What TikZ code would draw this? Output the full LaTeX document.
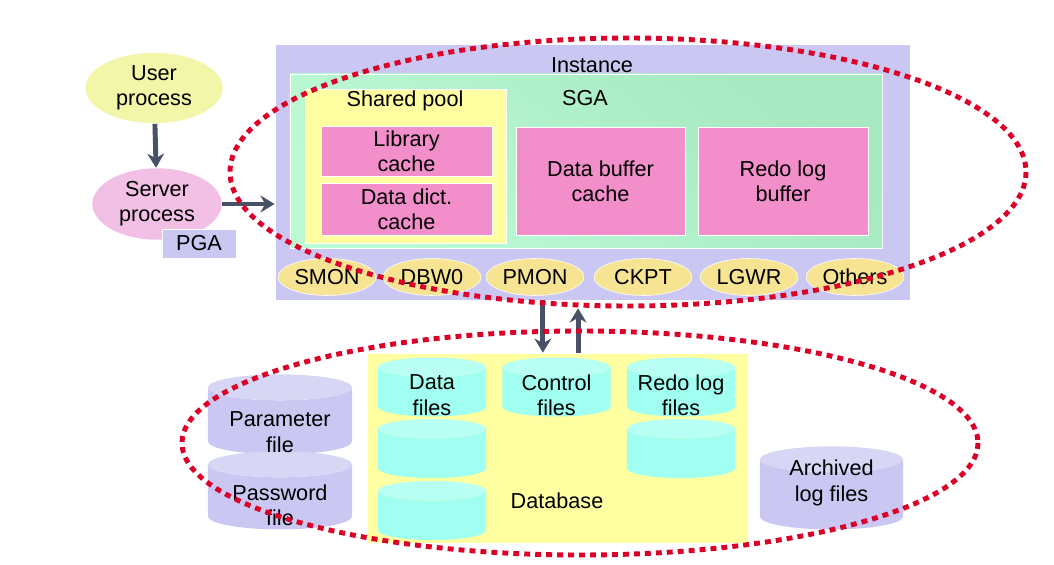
\documentclass[tikz,border=0pt]{standalone}
\usepackage{fontspec}
\setmainfont{Liberation Sans}
\usetikzlibrary{shapes.geometric,arrows.meta}
\definecolor{lav}{RGB}{202,200,242}
\definecolor{mint}{RGB}{188,250,214}
\definecolor{mintdk}{RGB}{166,232,194}
\definecolor{pool}{RGB}{255,255,162}
\definecolor{rose}{RGB}{242,142,202}
\definecolor{proc}{RGB}{246,228,146}
\definecolor{uproc}{RGB}{242,246,168}
\definecolor{sproc}{RGB}{242,192,228}
\definecolor{aqua}{RGB}{160,255,240}
\definecolor{slate}{RGB}{72,82,102}
\definecolor{dotred}{RGB}{220,0,40}
\begin{document}
\begin{tikzpicture}[x=0.025cm,y=-0.025cm]
\tikzstyle{every node}=[font=\fontsize{15.4}{18}\selectfont, align=center, inner sep=0pt]
\tikzstyle{box}=[rectangle, draw=white, line width=0.5pt]
\tikzstyle{cache}=[box, fill=rose]
\tikzstyle{bgproc}=[ellipse, fill=proc, draw=white, minimum width=2.45cm, minimum height=0.925cm]
\tikzstyle{can}=[cylinder, shape border rotate=90, aspect=0.18, cylinder uses custom fill]
\tikzstyle{dbfile}=[can, cylinder body fill=aqua, cylinder end fill=aqua!75!white, text width=2.7cm, minimum height=1.475cm]
\tikzstyle{osfile}=[can, cylinder body fill=lav, cylinder end fill=lav!75!white, text width=3.6cm]
\tikzstyle{arr}=[slate, line width=3.5pt, -{Stealth[length=10pt,width=12pt]}]
\tikzstyle{ring}=[dotred, line width=3.5pt, dash pattern=on 4.2pt off 3.6pt]
\useasboundingbox (0,0) rectangle (1054,565);
\node[box, fill=lav, minimum width=15.875cm, minimum height=6.4cm] (inst) at (592.5,172) {};
\node (instlbl) at (592,65) {Instance};
\node[box, shading=axis, top color=mintdk, middle color=mint, bottom color=mint, shading angle=-40, minimum width=14.8cm, minimum height=4.35cm] (sga) at (586,161) {};
\node (sgalbl) at (585,98) {SGA};
\node[box, fill=pool, minimum width=5.025cm, minimum height=3.85cm] (pool) at (405.5,166) {};
\node (poollbl) at (405,101) {Shared pool};
\node[cache, minimum width=4.275cm, minimum height=1.25cm] (lib) at (406.5,151) {Library\\cache};
\node[cache, minimum width=4.275cm, minimum height=1.3cm] (dict) at (406.5,209) {Data dict.\\cache};
\node[cache, minimum width=4.225cm, minimum height=2.7cm] (dbuf) at (600.5,181) {Data buffer\\cache};
\node[cache, minimum width=4.25cm, minimum height=2.7cm] (rbuf) at (783,181) {Redo log\\buffer};
\foreach \n/\x in {SMON/327,DBW0/432,PMON/535,CKPT/643,LGWR/749,Others/855}
  \node[bgproc] (\n) at (\x,277) {\n};
\node[ellipse, fill=uproc, draw=white, minimum width=3.45cm, minimum height=1.775cm] (user) at (154,88) {User\\process};
\node[ellipse, fill=sproc, draw=white, minimum width=3.25cm, minimum height=1.8cm] (server) at (157,204) {Server\\process};
\node[box, fill=lav, minimum width=1.85cm, minimum height=0.725cm] (pga) at (199,243.5) {PGA};
\node[box, fill=pool, minimum width=9.525cm, minimum height=4.75cm] (db) at (557.5,448) {};
\node (dblbl) at (557,501) {Database};
\node[dbfile] (data1) at (432,392) {};
\node[dbfile] (data2) at (432,453.5) {};
\node[dbfile] (data3) at (432,515.5) {};
\node[dbfile] (ctrl) at (556.5,392) {};
\node[dbfile] (redo1) at (681,392) {};
\node[dbfile] (redo2) at (681,453.5) {};
\node[osfile, minimum height=2cm] (param) at (280,421) {};
\node[osfile, minimum height=1.95cm] (passwd) at (280,497) {};
\node[osfile, text width=3.575cm, minimum height=2.075cm] (arch) at (831.5,494.5) {};
\node (data1lbl) at (432,395) {Data\\files};
\node (ctrllbl) at (556.5,395) {Control\\files};
\node (redo1lbl) at (681,395) {Redo log\\files};
\node (paramlbl) at (280,432) {Parameter\\file};
\node (passwdlbl) at (280,505) {Password\\file};
\node (archlbl) at (831.5,483) {Archived\\log files};
\draw[arr] (user) -- (server);
\draw[arr] (server) -- (server -| inst.west);
\draw[arr] ([xshift=-0.34cm]inst.south -| ctrl.north) -- ([xshift=-0.34cm]db.north -| ctrl.north);
\draw[arr] ([xshift=0.54cm]db.north -| ctrl.north) -- ([xshift=0.54cm,yshift=-0.2cm]inst.south -| ctrl.north);
\draw[ring] (628,172) ellipse [x radius=398, y radius=134];
\draw[ring] (580,443) ellipse [x radius=398, y radius=112];
\end{tikzpicture}
\end{document}
